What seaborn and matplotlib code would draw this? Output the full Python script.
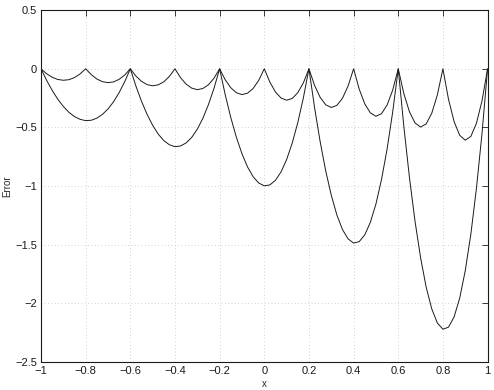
import numpy as np
import pandas as pd
import seaborn as sns
import matplotlib.pyplot as plt

# coarse grid error (nodes every 0.4), sampled every 0.025
x_coarse = np.linspace(-1, 1, 81)
err_coarse = [
    0, -0.098, -0.184, -0.259, -0.321, -0.371, -0.408, -0.431, -0.442,
    -0.439, -0.421, -0.389, -0.343, -0.281, -0.203, -0.110,
    0, -0.147, -0.277, -0.388, -0.482, -0.557, -0.612, -0.648, -0.664,
    -0.658, -0.632, -0.585, -0.515, -0.422, -0.305, -0.165,
    0, -0.221, -0.416, -0.584, -0.724, -0.837, -0.920, -0.974, -0.998,
    -0.990, -0.951, -0.879, -0.774, -0.634, -0.459, -0.248,
    0, -0.329, -0.619, -0.870, -1.078, -1.246, -1.370, -1.450, -1.486,
    -1.474, -1.416, -1.309, -1.153, -0.944, -0.684, -0.369,
    0, -0.492, -0.926, -1.299, -1.611, -1.862, -2.047, -2.167, -2.221,
    -2.203, -2.116, -1.956, -1.722, -1.411, -1.021, -0.552,
    0,
]

# fine grid error (nodes every 0.2), sampled every 0.025
x_fine = np.linspace(-1, 1, 81)
err_fine = [
    0, -0.042, -0.072, -0.091, -0.098, -0.093, -0.075, -0.044,
    0, -0.050, -0.087, -0.110, -0.118, -0.112, -0.090, -0.053,
    0, -0.062, -0.107, -0.135, -0.145, -0.137, -0.111, -0.065,
    0, -0.076, -0.131, -0.165, -0.178, -0.168, -0.136, -0.080,
    0, -0.094, -0.162, -0.204, -0.220, -0.208, -0.168, -0.099,
    0, -0.114, -0.198, -0.249, -0.268, -0.253, -0.204, -0.120,
    0, -0.141, -0.243, -0.307, -0.330, -0.312, -0.252, -0.148,
    0, -0.173, -0.299, -0.376, -0.405, -0.383, -0.309, -0.182,
    0, -0.212, -0.366, -0.462, -0.497, -0.470, -0.379, -0.223,
    0, -0.260, -0.450, -0.567, -0.609, -0.577, -0.465, -0.274,
    0,
]

x_ticks = [-1, -0.8, -0.6, -0.4, -0.2, 0, 0.2, 0.4, 0.6, 0.8, 1]
y_ticks = [-2.5, -2, -1.5, -1, -0.5, 0, 0.5]

sns.set_theme(style="white")
plt.rcParams['font.family'] = ['Liberation Sans', 'DejaVu Sans']

fig = plt.figure(figsize=(4.94, 3.9), dpi=100)
ax = fig.add_axes([0.083, 0.0718, 0.904, 0.9022])

sns.lineplot(x=x_coarse, y=err_coarse, ax=ax, color='k', lw=0.7,
             estimator=None, sort=False)
sns.lineplot(x=x_fine, y=err_fine, ax=ax, color='k', lw=0.7,
             estimator=None, sort=False)

ax.set_xlim(-1, 1)
ax.set_ylim(-2.5, 0.5)
ax.set_xticks(x_ticks)
ax.set_yticks(y_ticks)
ax.set_xticklabels(['\u22121', '\u22120.8', '\u22120.6', '\u22120.4', '\u22120.2',
                    '0', '0.2', '0.4', '0.6', '0.8', '1'])
ax.set_yticklabels(['\u22122.5', '\u22122', '\u22121.5', '\u22121', '\u22120.5', '0', '0.5'])
ax.grid(True, linestyle=(0, (1, 3)), color='#c4c4c4', lw=0.6)
ax.tick_params(direction='in', top=True, right=True, length=4, width=0.6,
               labelsize=8, colors='k', pad=3)
for s in ax.spines.values():
    s.set_color('k')
    s.set_linewidth(0.8)
ax.set_xlabel('x', fontsize=7, labelpad=2)
ax.set_ylabel('Error', fontsize=7, labelpad=2)

plt.savefig('out.png', dpi=100)
